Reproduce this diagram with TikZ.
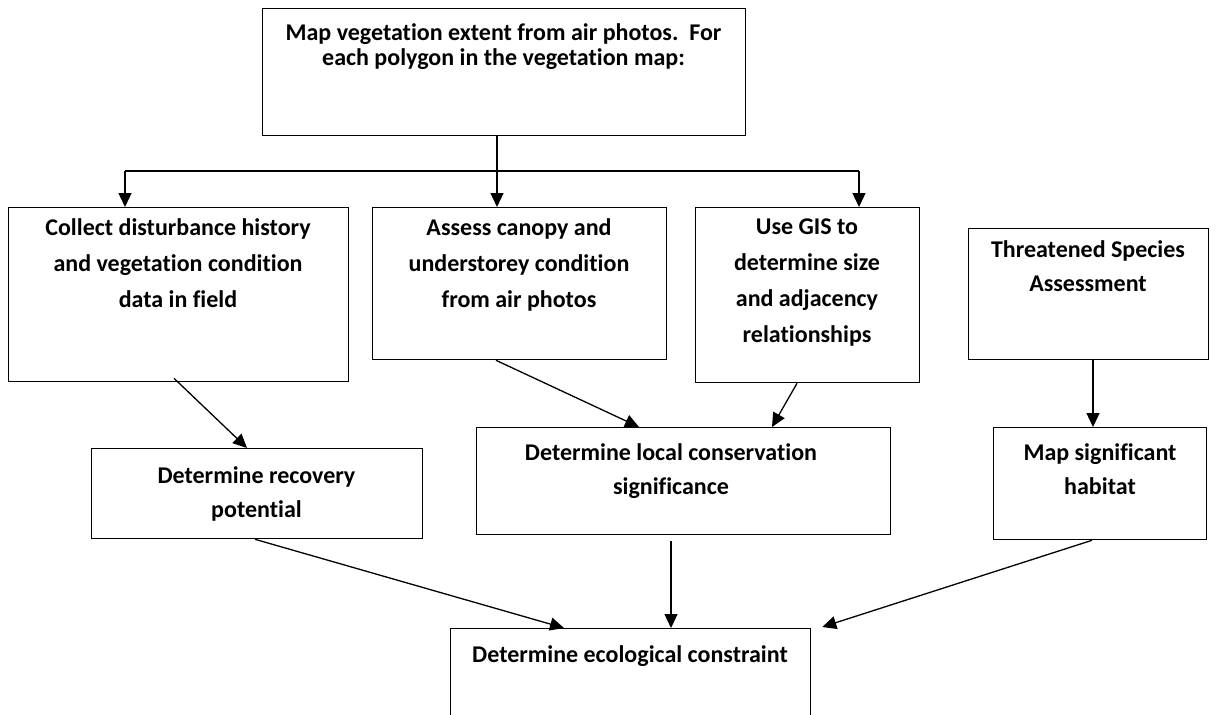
\documentclass[tikz,border=0pt]{standalone}
\usepackage{fontspec}
\setmainfont{Carlito}[Ligatures=NoCommon]
\usetikzlibrary{arrows.meta,calc}
\begin{document}
\begin{tikzpicture}[x=1pt,y=-1pt,
  box/.style={draw=black, line width=1.3pt, anchor=north west, inner sep=0pt},
  txt/.style={font=\fontsize{24}{36}\selectfont\bfseries, align=center, inner sep=0pt, anchor=north},
  txtlow/.style={txt, font=\fontsize{24}{34}\selectfont\bfseries},
  txttop/.style={txt, font=\fontsize{24}{25}\selectfont\bfseries},
  arr/.style={line width=1.3pt, -{Triangle[length=14pt,width=13pt]}},
  ln/.style={line width=1.3pt}]
\useasboundingbox (0,0) rectangle (1216,715);
% boxes
\node[box, minimum width=483pt, minimum height=127pt] (top) at (262,8) {};
\node[box, minimum width=340pt, minimum height=174pt] (collect) at (8,207) {};
\node[box, minimum width=294pt, minimum height=152pt] (assess) at (372,207) {};
\node[box, minimum width=224pt, minimum height=175pt] (gis) at (695,207) {};
\node[box, minimum width=240pt, minimum height=131pt] (thr) at (968,228) {};
\node[box, minimum width=331pt, minimum height=90pt] (rec) at (91,448) {};
\node[box, minimum width=414pt, minimum height=107pt] (loc) at (476,427) {};
\node[box, minimum width=213pt, minimum height=112pt] (map) at (993,427) {};
\node[box, minimum width=360pt, minimum height=100pt] (eco) at (450,628) {};
% texts
\node[txttop] (ttop) at (503.5,23.5) {Map vegetation extent from air photos.\ \ For\\each polygon in the vegetation map:};
\node[txt] (tcollect) at (178,218.5) {Collect disturbance history\\and vegetation condition\\data in field};
\node[txt] (tassess) at (519,218.5) {Assess canopy and\\understorey condition\\from air photos};
\node[txt] (tgis) at (807,218.5) {Use GIS to\\determine size\\and adjacency\\relationships};
\node[txtlow] (tthr) at (1088,240.5) {Threatened Species\\Assessment};
\node[txtlow] (trec) at (256.5,466.5) {Determine recovery\\potential};
\node[txtlow] (tloc) at (671,443.5) {Determine local conservation\\significance};
\node[txtlow] (tmap) at (1100,443.5) {Map significant\\habitat};
\node[txtlow] (teco) at (630,645.5) {Determine ecological constraint};
% top distribution
\coordinate (split) at (497,171);
\coordinate (a1) at (125,171);
\coordinate (a3) at (859,171);
\draw[ln] (top.south -| split) -- (split);
\draw[ln] (a1) -- (a3);
\draw[arr] (a1) -- (a1 |- collect.north);
\draw[arr] (split) -- (split |- assess.north);
\draw[arr] (a3) -- (a3 |- gis.north);
% other connectors
\draw[arr] ([yshift=4pt]collect.south -| 174,0) -- (rec.north -| 247,0);
\draw[arr] (assess.south -| 496,0) -- (loc.north -| 639,0);
\draw[arr] (gis.south -| 797,0) -- (loc.north -| 772,0);
\draw[arr] (thr.south -| 1093,0) -- (map.north -| 1093,0);
\draw[arr] (rec.south -| 255,0) -- (eco.north -| 564,0);
\draw[arr] ([yshift=-6pt]loc.south -| 671,0) -- (eco.north -| 671,0);
\draw[arr] (map.south -| 1092,0) -- ([xshift=11pt,yshift=1pt]eco.north east);
\end{tikzpicture}
\end{document}
